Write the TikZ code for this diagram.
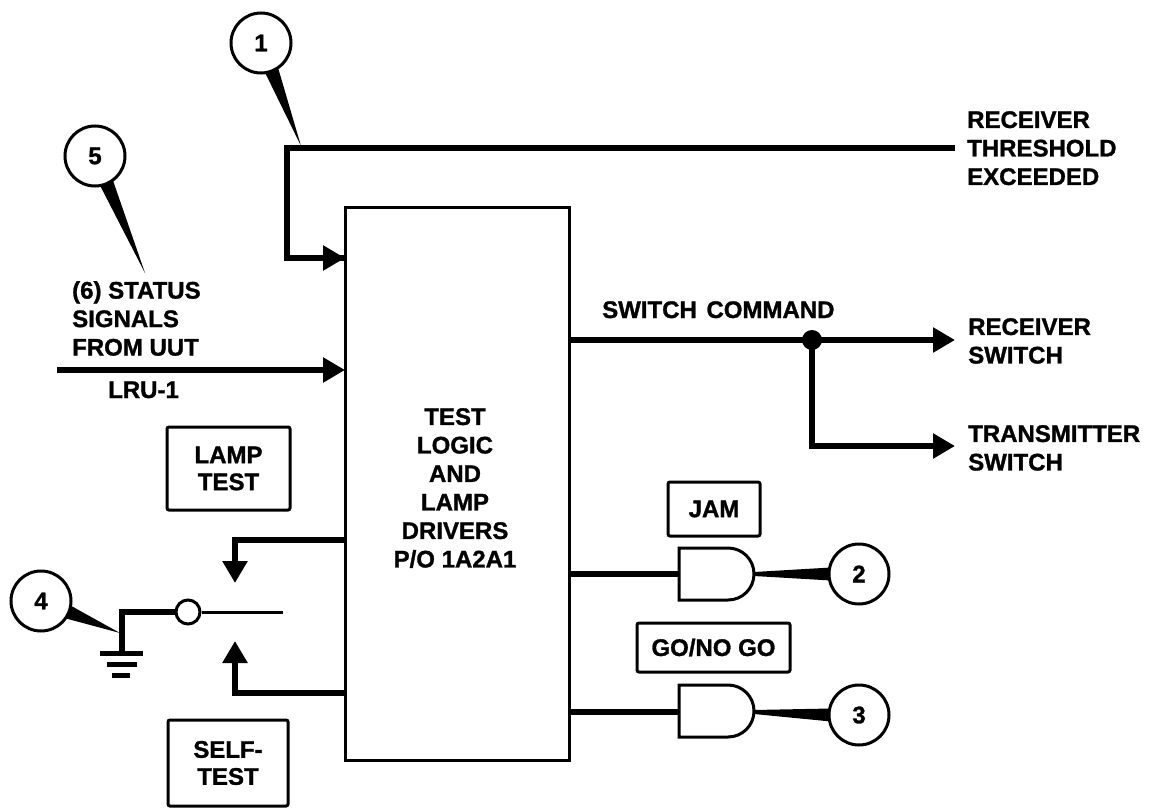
\documentclass[tikz,border=0pt]{standalone}
\usepackage{fontspec}
\setmainfont{Liberation Sans}[BoldFeatures={FakeBold=1.2}]
\usetikzlibrary{arrows.meta,calc}
\tikzset{
  lbl/.style={font=\bfseries\fontsize{24}{28.5}\selectfont, inner sep=0pt, align=left},
  thick wire/.style={line width=6pt},
  thin wire/.style={line width=3pt},
  tri/.style={-{Triangle[length=22pt,width=24pt]}},
  callout/.style={circle, draw, line width=3pt, fill=white, minimum size=60pt, inner sep=0pt, font=\bfseries\fontsize{24}{28}\selectfont},
  tagbox/.style={draw, line width=3pt, rounded corners=2pt, inner sep=0pt, align=center, font=\bfseries\fontsize{24}{27}\selectfont},
  gateshape/.style={line width=3pt, fill=white}
}
\begin{document}
\begin{tikzpicture}[x=1pt,y=-1pt]
\useasboundingbox (0,0) rectangle (1149,808);

% main block
\node[draw, line width=3pt, minimum width=224pt, minimum height=553pt, inner sep=0pt] (main) at (457,483.5) {};
\node[lbl, align=center, anchor=north] (maintxt) at (455,408) {TEST\\LOGIC\\AND\\LAMP\\DRIVERS\\P/O 1A2A1};

% coordinates
\coordinate (rte) at (955,148);
\coordinate (tc) at (287,148);
\coordinate (in1) at (345,258);
\coordinate (sin) at (57,370);
\coordinate (in2) at (345,370);
\coordinate (sc) at (569,340);
\coordinate (dot) at (812,340);
\coordinate (rsw) at (955,340);
\coordinate (tsw) at (955,446);
\coordinate (up1) at (345,540);
\coordinate (up2) at (235,540);
\coordinate (uptip) at (235,583);
\coordinate (lo1) at (345,693);
\coordinate (lo2) at (235,693);
\coordinate (lotip) at (235,641);

% top line to box
\draw[thick wire, line join=miter] (rte) -- (tc) |- (in1);
\draw[thick wire, tri] ($(tc)+(0,110)$) -- (in1);
% status input
\draw[thick wire, tri] (sin) -- (in2);

% switch command
\draw[thick wire, tri] (sc) -- (rsw);
\draw[thick wire, tri, line join=miter] (dot) |- (tsw);
\fill (dot) circle (10pt);

% lamp test / self test wires
\draw[thick wire, line join=miter] (up1) -- (up2) -- ($(up2)+(0,20)$);
\draw[thick wire, tri] ($(up2)+(0,18)$) -- (uptip);
\draw[thick wire, line join=miter] (lo1) -- (lo2) -- ($(lo2)+(0,-20)$);
\draw[thick wire, tri] ($(lo2)+(0,-18)$) -- (lotip);

% switch
\node[circle, draw, line width=3pt, fill=white, minimum size=24pt, inner sep=0pt] (piv) at (188,612) {};
\coordinate (blade) at (283,612);
\coordinate (gnd) at (122,612);
\coordinate (gndb) at (122,655);
\draw[thin wire] (piv.east) -- (blade);
\draw[thick wire, line join=miter] (piv.west) -- (gnd) -- (gndb);
\draw[line width=5pt] (100,653) -- (143,653);
\draw[line width=5pt] (107,664) -- (137,664);
\draw[line width=5pt] (112,675) -- (130,675);

% tag boxes
\node[tagbox, minimum width=123pt, minimum height=83pt] (lamp) at (228.5,468.5) {LAMP\\TEST};
\node[tagbox, minimum width=120pt, minimum height=86pt] (self) at (228,763) {SELF-\\TEST};
\node[tagbox, minimum width=92pt, minimum height=54pt] (jam) at (714,509) {JAM};
\node[tagbox, minimum width=153pt, minimum height=49pt] (gono) at (713.5,647.5) {GO/NO GO};

% gates
\draw[gateshape] (679,548) -- (728,548) .. controls (742.4,548) and (754,559.6) .. (754,574) .. controls (754,588.4) and (742.4,600) .. (728,600) -- (679,600) -- cycle;
\coordinate (g1in) at (679,574);
\coordinate (g1out) at (754,574);
\draw[gateshape] (679,685) -- (728,685) .. controls (742.4,685) and (754,696.6) .. (754,711) .. controls (754,725.4) and (742.4,737) .. (728,737) -- (679,737) -- cycle;
\coordinate (g2in) at (679,712);
\coordinate (g2out) at (754,712);
\draw[thick wire] (569,574) -- (g1in);
\draw[thick wire] (569,712) -- (g2in);

% callouts 2 and 3
\coordinate (p2) at (859,574);
\coordinate (p3) at (859,715);
\fill ($(g1out)+(0,-2)$) -- ($(p2)+(-28,-6.5)$) -- ($(p2)+(-28,6.5)$) -- ($(g1out)+(0,2)$) -- cycle;
\fill ($(g2out)+(0,-2)$) -- ($(p3)+(-28,-6.5)$) -- ($(p3)+(-28,6.5)$) -- ($(g2out)+(0,2)$) -- cycle;
\node[callout] (c2) at (p2) {2};
\node[callout] (c3) at (p3) {3};

% callouts 1, 5, 4 with tapered tails
\coordinate (t1) at (301,146);
\coordinate (t5) at (145,273);
\coordinate (t4) at (120,633);
\coordinate (p1) at (261,43);
\coordinate (p5) at (95,156);
\coordinate (p4) at (41,601);
\fill ($(p1)!29pt!14:(t1)$) -- (t1) -- ($(p1)!29pt!-14:(t1)$) -- cycle;
\fill ($(p5)!29pt!14:(t5)$) -- (t5) -- ($(p5)!29pt!-14:(t5)$) -- cycle;
\fill ($(p4)!29pt!14:(t4)$) -- (t4) -- ($(p4)!29pt!-14:(t4)$) -- cycle;
\node[callout] (c1) at (p1) {1};
\node[callout] (c5) at (p5) {5};
\node[callout] (c4) at (p4) {4};

% labels
\node[lbl, anchor=north west] (rte-l) at (967,111) {RECEIVER\\THRESHOLD\\EXCEEDED};
\node[lbl, anchor=base west] (swc) at (602,318) {SWITCH\hspace{3pt} COMMAND};
\node[lbl, anchor=north west] (rsw-l) at (968,318) {RECEIVER\\SWITCH};
\node[lbl, anchor=north west] (tsw-l) at (968,425) {TRANSMITTER\\SWITCH};
\node[lbl, anchor=north west] (stat) at (72,281) {(6) STATUS\\SIGNALS\\FROM UUT};
\node[lbl, anchor=base west] (lru) at (108,398) {LRU-1};
\end{tikzpicture}
\end{document}
